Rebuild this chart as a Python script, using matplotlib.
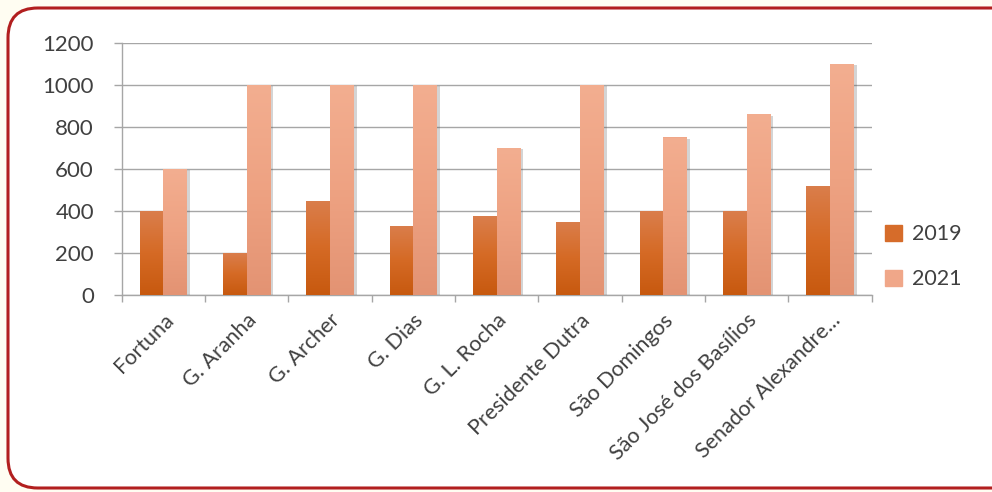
import matplotlib
matplotlib.use("Agg")
import matplotlib.pyplot as plt
import matplotlib.patheffects as pe
from matplotlib.patches import FancyBboxPatch, Rectangle
import numpy as np
from matplotlib.colors import LinearSegmentedColormap

categories = ["Fortuna", "G. Aranha", "G. Archer", "G. Dias", "G. L. Rocha",
              "Presidente Dutra", "São Domingos", "São José dos Basílios",
              "Senador Alexandre..."]
series_names = ["2019", "2021"]
values_2019 = [400, 200, 450, 330, 375, 350, 400, 400, 520]
values_2021 = [600, 1000, 1000, 1000, 700, 1000, 750, 860, 1100]
y_ticks = [0, 200, 400, 600, 800, 1000, 1200]

plt.rcParams['font.family'] = ['Lato', 'DejaVu Sans']

fig = plt.figure(figsize=(9.92, 4.92), dpi=100)
fig.patch.set_facecolor('#FFFDF2')

# rounded border frame
frame = FancyBboxPatch((8 / 992, 4 / 492), 1.2, 484 / 492 - 4 / 492,
                       boxstyle="round,pad=0,rounding_size=0.03",
                       transform=fig.transFigure, facecolor='white',
                       edgecolor='#B21F1F', linewidth=2.2, zorder=-5,
                       mutation_aspect=992 / 492)
fig.patches.append(frame)

ax = fig.add_axes([121.7 / 992, 1 - 295 / 492, 750 / 992, 252 / 492])
ax.set_facecolor('none')
ax.set_zorder(2)

x = np.arange(len(categories))
w = 0.285

cm19 = LinearSegmentedColormap.from_list('c19', ['#C7590F', '#D56A25', '#DA7E4C'])
cm21 = LinearSegmentedColormap.from_list('c21', ['#E39373', '#EEA282', '#F3AE90'])

bars19 = ax.bar(x - w / 2, values_2019, width=w, color='#D66C2A', zorder=3,
                label=series_names[0], linewidth=0)
bars21 = ax.bar(x + w / 2, values_2021, width=w, color='#F0A789', zorder=3,
                label=series_names[1], linewidth=0)

grad = np.linspace(0, 1, 256).reshape(-1, 1)
for bars, cm in ((bars19, cm19), (bars21, cm21)):
    for b in bars:
        b.set_path_effects([pe.SimplePatchShadow(offset=(2, -1), alpha=0.25,
                                                 shadow_rgbFace='#555555'),
                            pe.Normal()])
        x0, y0 = b.get_x(), b.get_y()
        bw, bh = b.get_width(), b.get_height()
        im = ax.imshow(grad, cmap=cm, aspect='auto', origin='lower',
                       extent=(x0, x0 + bw, y0, y0 + bh), zorder=4)
        im.set_clip_path(b)

ax.set_xlim(-0.5, len(categories) - 0.5)
ax.set_ylim(0, 1200)
ax.set_yticks(y_ticks)
ax.set_yticklabels([str(v) for v in y_ticks], fontsize=16, color='#404040')
ax.grid(axis='y', color='#A6A6A6', linewidth=1.0, zorder=1)

ax.set_xticks(x)
ax.set_xticklabels(categories, rotation=45, ha='right', rotation_mode='anchor',
                   fontsize=15.5, color='#404040')
ax.set_xticks(np.arange(-0.5, len(categories)), minor=True)
ax.tick_params(axis='x', which='major', length=0, pad=11)
ax.tick_params(axis='x', which='minor', length=5, color='#A6A6A6', width=1)
ax.tick_params(axis='y', length=6, color='#A6A6A6', width=1, pad=14)

for s in ['top', 'right']:
    ax.spines[s].set_visible(False)
for s in ['left', 'bottom']:
    ax.spines[s].set_color('#A6A6A6')
    ax.spines[s].set_linewidth(1.0)

leg = fig.legend(handles=[Rectangle((0, 0), 1, 1, color='#D66C2A'),
                          Rectangle((0, 0), 1, 1, color='#F0A789')],
                 labels=series_names, loc='upper left',
                 bbox_to_anchor=(866 / 992, 1 - 205 / 492),
                 frameon=False, fontsize=15.5, handlelength=0.75,
                 handleheight=0.75, handletextpad=0.5, labelspacing=1.15,
                 labelcolor='#404040')
leg.set_zorder(3)

fig.savefig('out.png', dpi=100, facecolor=fig.get_facecolor())
